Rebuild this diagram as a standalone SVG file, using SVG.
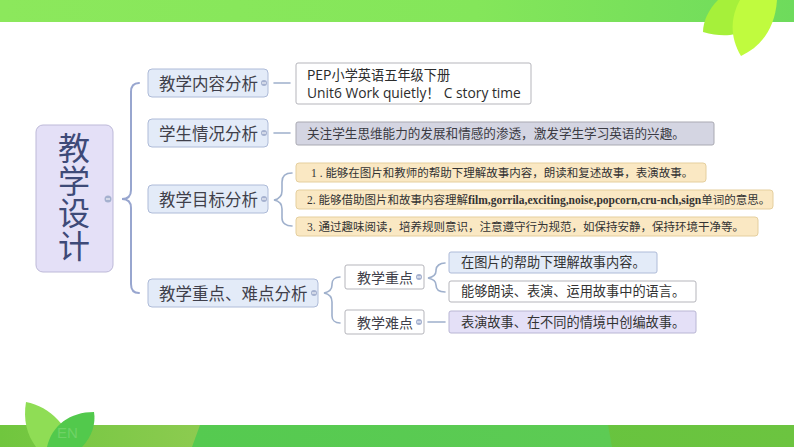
<svg xmlns="http://www.w3.org/2000/svg" width="794" height="447" viewBox="0 0 794 447">
<defs>
<linearGradient id="tb" x1="0" x2="1" y1="0" y2="0"><stop offset="0" stop-color="#8ce85c"/><stop offset="0.6" stop-color="#84e65a"/><stop offset="1" stop-color="#6edb5c"/></linearGradient>
<linearGradient id="bl" x1="0" x2="1" y1="0" y2="0"><stop offset="0" stop-color="#70c63e"/><stop offset="1" stop-color="#8ccb50"/></linearGradient>
<linearGradient id="bm" x1="0" x2="1" y1="0" y2="0"><stop offset="0" stop-color="#55ca50"/><stop offset="1" stop-color="#5dcb54"/></linearGradient>
<linearGradient id="br" x1="0" x2="1" y1="0" y2="0"><stop offset="0" stop-color="#5cc23a"/><stop offset="1" stop-color="#6cc440"/></linearGradient>
</defs>
<style>
text{font-family:"Noto Sans CJK SC","Liberation Sans",sans-serif;fill:#3c3c46}
.n{font-size:16.5px;fill:#3f3f4a}
.s{font-family:"Liberation Serif","Noto Sans CJK SC",serif;font-size:11.5px;fill:#333}
.l{font-family:"Liberation Serif","Noto Sans CJK SC",serif;font-size:13.2px;fill:#333}
.k{font-size:14px;fill:#3f3f4a}
.b{fill:#e3ebf8;stroke:#aebbd8;stroke-width:1}
.w{fill:#fff;stroke:#b5b5bb;stroke-width:1}
.y{fill:#fae8c3;stroke:#e5cf9e;stroke-width:1}
.c{fill:none;stroke:#98a6cf;stroke-width:2;stroke-linecap:round}
.c2{fill:none;stroke:#9fb0cc;stroke-width:1.6;stroke-linecap:round}
.d{fill:#a5b1cf}
.m{stroke:#fff;stroke-width:1}
</style>
<rect width="794" height="447" fill="#fff"/>
<g id="top-band">
<rect x="0" y="0" width="794" height="22" fill="url(#tb)"/>
<path d="M718 0C708 10 703 22 703 32C716 36 728 36 735 34L745 0Z" fill="#a6f03a"/>
<path d="M740 0C731 16 729 36 741 56C762 46 775 28 777 0Z" fill="#c0fb3e"/>
</g>
<g id="bottom-band">
<rect x="0" y="425" width="794" height="22" fill="url(#br)"/>
<rect x="0" y="425" width="200" height="22" fill="url(#bl)"/>
<path d="M192 447L200 425H608L612 447Z" fill="url(#bm)"/>
<path d="M26 402C23 420 27 435 36 447H70C72 430 50 406 26 402Z" fill="#8fdd55"/>
<path d="M94 412C70 412 52 425 47 447H82C92 437 96 423 94 412Z" fill="#52c94c"/>
<text x="57" y="438" font-size="15" style="fill:#6fd266;font-family:'Liberation Sans',sans-serif">EN</text>
</g>
<g id="connectors">
<path class="c" d="M139 83C134 83 131 86 131 92V190C131 196 128 199 122 199C128 199 131 202 131 208V284C131 290 134 293 139 293"/>
<path class="c2" d="M274 83H290M274 133H290"/>
<path class="c2" d="M292 173C286 173 282 176 282 182V191C282 196 279 199 274 200C279 201 282 204 282 209V218C282 223 286 226 292 226"/>
<path class="c2" d="M340 277C335 277 332 280 332 284V285C332 290 329 292 324 293C329 294 332 297 332 302V316C332 320 335 323 340 323"/>
<path class="c2" d="M445 263C440 263 436 266 436 270V271C436 275 433 277 428 278C433 279 436 281 436 285C436 290 440 292 445 292"/>
<path class="c2" d="M428 322H445"/>
</g>
<g id="root">
<rect x="36" y="125" width="77" height="147" rx="7" fill="#e4e0f7" stroke="#bdb9d8"/>
<text x="74" y="132" font-size="32" letter-spacing="0.5" style="fill:#3e4a78;writing-mode:vertical-rl">教学设计</text>
<circle class="d" cx="108" cy="199" r="3.5"/><path class="m" d="M106 199H110"/>
</g>
<g id="n1"><rect class="b" x="148" y="69" width="120" height="28" rx="4"/><text class="n" x="159" y="90">教学内容分析</text><circle class="d" cx="264" cy="83" r="3"/><path class="m" d="M262 83H266"/></g>
<g id="n2"><rect class="b" x="148" y="119" width="120" height="28" rx="4"/><text class="n" x="159" y="140">学生情况分析</text><circle class="d" cx="264" cy="133" r="3"/><path class="m" d="M262 133H266"/></g>
<g id="n3"><rect class="b" x="148" y="185" width="120" height="28" rx="4"/><text class="n" x="159" y="206">教学目标分析</text><circle class="d" cx="264" cy="199" r="3"/><path class="m" d="M262 199H266"/></g>
<g id="n4"><rect class="b" x="148" y="279" width="170" height="28" rx="4"/><text class="n" x="159" y="300">教学重点、难点分析</text><circle class="d" cx="314" cy="293" r="3"/><path class="m" d="M312 293H316"/></g>
<g id="c1"><rect class="w" x="296" y="63" width="235" height="41" rx="2"/><text x="307" y="80" font-size="13.2" style="fill:#2c2c2c">PEP小学英语五年级下册</text><text x="307" y="98" font-size="13.8" style="fill:#2c2c2c;font-family:'Open Sans','Noto Sans CJK SC',sans-serif">Unit6 Work quietly！ C story time</text></g>
<g id="c2"><rect x="296" y="122" width="418" height="23" rx="2" fill="#d4d5e2" stroke="#a9a9b2"/><text x="307" y="138" font-size="12.6" style="fill:#3a3a42">关注学生思维能力的发展和情感的渗透，激发学生学习英语的兴趣。</text></g>
<g id="g1"><rect class="y" x="296" y="163" width="410" height="19" rx="3"/><text class="s" x="311" y="177">1 . 能够在图片和教师的帮助下理解故事内容，朗读和复述故事，表演故事。</text></g>
<g id="g2"><rect class="y" x="296" y="190" width="477" height="19" rx="3"/><text class="s" x="307" y="204">2. 能够借助图片和故事内容理解<tspan font-weight="bold" font-size="11.5">film,gorrila,exciting,noise,popcorn,cru-nch,sign</tspan>单词的意思。</text></g>
<g id="g3"><rect class="y" x="296" y="217" width="462" height="19" rx="3"/><text class="s" x="307" y="231">3. 通过趣味阅读，培养规则意识，注意遵守行为规范，如保持安静，保持环境干净等。</text></g>
<g id="k1"><rect class="w" x="345" y="265" width="79" height="24" rx="2"/><text class="k" x="357" y="283">教学重点</text><circle class="d" cx="419" cy="277" r="3"/><path class="m" d="M417 277H421"/></g>
<g id="k2"><rect class="w" x="345" y="310" width="79" height="24" rx="2"/><text class="k" x="357" y="328">教学难点</text><circle class="d" cx="419" cy="322" r="3"/><path class="m" d="M417 322H421"/></g>
<g id="l1"><rect class="b" x="449" y="252" width="208" height="21" rx="2"/><text class="l" x="461" y="267">在图片的帮助下理解故事内容。</text></g>
<g id="l2"><rect class="w" x="449" y="281" width="247" height="21" rx="2"/><text class="l" x="461" y="296">能够朗读、表演、运用故事中的语言。</text></g>
<g id="l3"><rect x="449" y="311" width="247" height="22" rx="2" fill="#e4e0f7" stroke="#b9b6d4"/><text class="l" x="461" y="327">表演故事、在不同的情境中创编故事。</text></g>
</svg>
